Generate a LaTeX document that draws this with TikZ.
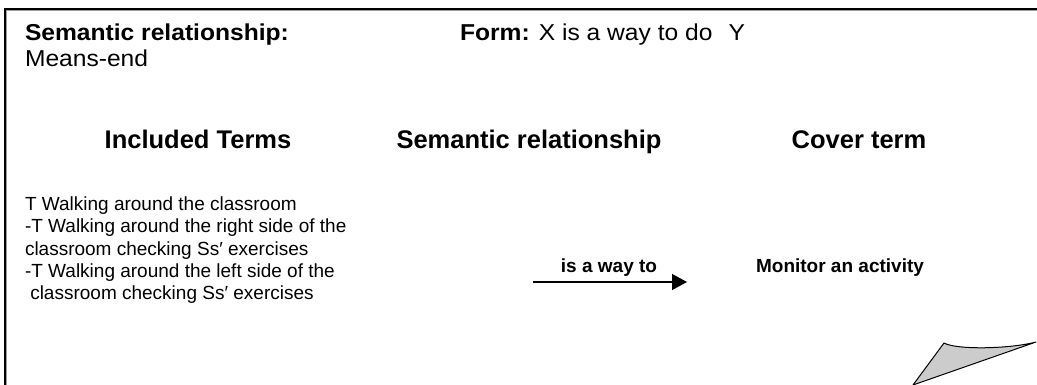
\documentclass[tikz,border=0pt]{standalone}
\usepackage{fontspec}
\setmainfont{Liberation Sans}
\newfontfamily\headface{Liberation Sans}[FakeStretch=1.07]
\usepackage{tikz}
\usetikzlibrary{arrows.meta}
\definecolor{shadeGray}{HTML}{9C9C9C}
\definecolor{curlGray}{HTML}{CCCCCC}

\begin{document}
\begin{tikzpicture}[
  x=1pt, y=-1pt,
  every node/.style={inner sep=0pt, outer sep=0pt},
  head/.style={font=\headface\fontsize{23}{27}\selectfont, anchor=base west},
  colhead/.style={font=\fontsize{25.5}{30}\selectfont\bfseries, anchor=base},
  term/.style={font=\fontsize{19}{22}\selectfont, anchor=base west},
  relation/.style={font=\fontsize{19}{22}\selectfont\bfseries, anchor=base},
  link/.style={line width=1.3pt, -{Triangle[length=15pt, width=16pt]}},
]
\useasboundingbox (0,0) rectangle (1037,385);

% ─── FRAME ───
\draw[shadeGray, line width=1.5pt] (1037,10.5) -- (6.5,10.5) -- (6.5,385);
\draw[line width=1.6pt] (1037,8.8) -- (5,8.8) -- (5,385);
\draw[line width=1pt, fill=curlGray, line join=round]
  (944,343) .. controls (956,350) and (1010,349) .. (1036,342)
  -- (913,385) -- cycle;

% ─── HEADER ───
\node[head] (semRel) at (25,41) {\textbf{Semantic relationship:}};
\node[head] (meansEnd) at (25,67) {Means-end};
\node[head] (form) at (460,41) {\textbf{Form:} X is a way to do\hspace{16pt}Y};

% ─── COLUMNS ───
\node[colhead] (included) at (198,149) {Included Terms};
\node[colhead] (semantic) at (529,149) {Semantic relationship};
\node[colhead] (cover) at (859,149) {Cover term};

% ─── INCLUDED TERMS ───
\foreach \txt [count=\i] in {
  T Walking around the classroom,
  -T Walking around the right side of the,
  classroom checking Ss′ exercises,
  -T Walking around the left side of the,
  \ classroom checking Ss′ exercises}
  \node[term] (term\i) at (25,189+22*\i) {\txt};

% ─── RELATION ───
\node[relation] (isWay) at (609,272) {is a way to};
\coordinate (linkTail) at (533,282);
\coordinate (linkHead) at (687,282);
\draw[link] (linkTail) -- (linkHead);

\node[relation] (monitor) at (840,272) {Monitor an activity};

\end{tikzpicture}
\end{document}
